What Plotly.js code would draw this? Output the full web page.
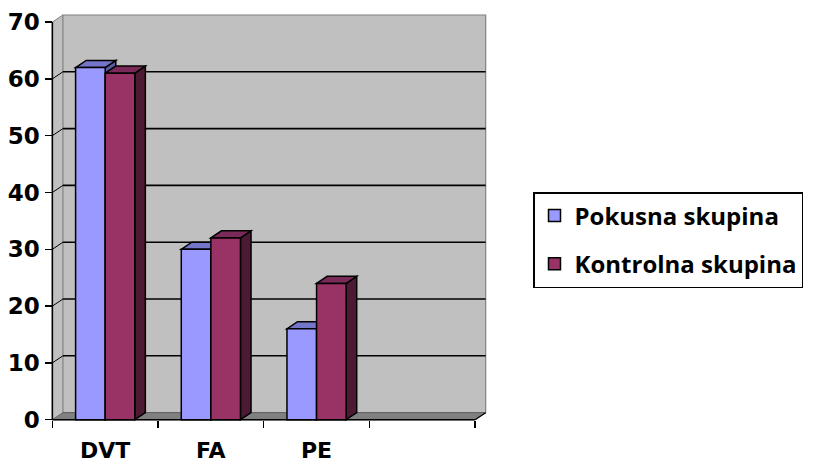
<!DOCTYPE html>
<html>
<head>
<meta charset="utf-8">
<script src="https://cdn.plot.ly/plotly-3.0.1.min.js"></script>
<style>html,body{margin:0;padding:0;background:#fff;}#chart{width:828px;height:467px;}</style>
</head>
<body>
<div id="chart"></div>
<script>
// ---- data ----
const categories = ['DVT', 'FA', 'PE', ''];
const seriesNames = ['Pokusna skupina', 'Kontrolna skupina'];
const pokusna = [62, 30, 16];
const kontrolna = [61, 32, 24];
const yTicks = [0, 10, 20, 30, 40, 50, 60, 70];

// ---- style / geometry ----
const W = 0.28;          // bar width (category units)
const DX = 0.1;          // 3D depth in x (category units)
const DY = 1.25;         // 3D depth in y (value units)
const YMAX = 70;
const XL = -0.5, XR = categories.length - 0.5;
const colors = {
  front: ['#9999FF', '#993366'],
  top: ['#7474C8', '#7A2A58'],
  side: ['#5A5AA0', '#4D1A33']
};

const idx = categories.map((c, i) => i);
const xs = pokusna.map((v, i) => i);

const traces = [pokusna, kontrolna].map((vals, s) => ({
  type: 'bar',
  name: seriesNames[s],
  x: xs,
  y: vals,
  width: W,
  offset: s === 0 ? -W : 0,
  marker: {color: colors.front[s], line: {color: '#000', width: 1.5}},
  hoverinfo: 'skip',
  legendgroup: 'g' + s
}));

const shapes = [];
const P = (pts) => 'M' + pts.map(p => p[0] + ',' + p[1]).join('L') + 'Z';
// left wall
shapes.push({type: 'path', xref: 'x', yref: 'y', layer: 'below',
  path: P([[XL, 0], [XL + DX, DY], [XL + DX, YMAX + DY], [XL, YMAX]]),
  fillcolor: '#C0C0C0', line: {width: 0}});
// back wall
shapes.push({type: 'rect', xref: 'x', yref: 'y', layer: 'below',
  x0: XL + DX, x1: XR + DX, y0: DY, y1: YMAX + DY,
  fillcolor: '#C0C0C0', line: {color: '#808080', width: 1.2}});
// floor
shapes.push({type: 'path', xref: 'x', yref: 'y', layer: 'below',
  path: P([[XL, 0], [XR, 0], [XR + DX, DY], [XL + DX, DY]]),
  fillcolor: '#808080', line: {color: '#606060', width: 1}});
// gridlines + left wall diagonals
yTicks.forEach(v => {
  if (v > 0 && v < YMAX) {
    shapes.push({type: 'line', xref: 'x', yref: 'y', layer: 'below',
      x0: XL + DX, x1: XR + DX, y0: v + DY, y1: v + DY, line: {color: '#000', width: 1.6}});
  }
  if (v > 0) {
    shapes.push({type: 'line', xref: 'x', yref: 'y', layer: 'below',
      x0: XL, x1: XL + DX, y0: v, y1: v + DY,
      line: {color: v === YMAX ? '#808080' : '#000', width: 1}});
  }
});
// bar 3D faces
[pokusna, kontrolna].forEach((vals, s) => {
  vals.forEach((v, i) => {
    const L = s === 0 ? i - W : i;
    const R = L + W;
    shapes.push({type: 'path', xref: 'x', yref: 'y', layer: 'below',
      path: P([[R, 0], [R + DX, DY], [R + DX, v + DY], [R, v]]),
      fillcolor: colors.side[s], line: {color: '#000', width: 1.5}});
    shapes.push({type: 'path', xref: 'x', yref: 'y', layer: 'below',
      path: P([[L, v], [L + DX, v + DY], [R + DX, v + DY], [R, v]]),
      fillcolor: colors.top[s], line: {color: '#000', width: 1.5}});
  });
});
// axis lines
shapes.push({type: 'line', xref: 'x', yref: 'y', layer: 'above',
  x0: XL, x1: XL, y0: 0, y1: YMAX, line: {color: '#000', width: 1.6}});
shapes.push({type: 'line', xref: 'x', yref: 'y', layer: 'above',
  x0: XL, x1: XR, y0: 0, y1: 0, line: {color: '#000', width: 1.6}});
shapes.push({type: 'line', xref: 'x', yref: 'y', layer: 'above',
  x0: XR, x1: XR + DX, y0: 0, y1: DY, line: {color: '#000', width: 1.2}});

const xRange = [-0.56, 3.66];
const yRange = [-0.4, 71.6];
const ml = 46, mr = 336, mt = 13, mb = 45;

const yTickFont = {family: 'DejaVu Sans', size: 23, weight: 'bold', color: '#000'};
const xTickFont = {family: 'DejaVu Sans', size: 22, weight: 'bold', color: '#000'};

const layout = {
  width: 828, height: 467,
  margin: {l: ml, r: mr, t: mt, b: mb},
  paper_bgcolor: '#fff',
  plot_bgcolor: '#fff',
  barmode: 'overlay',
  showlegend: true,
  xaxis: {
    range: xRange, anchor: 'free',
    position: (0 - yRange[0]) / (yRange[1] - yRange[0]),
    tickvals: idx, ticktext: categories,
    ticks: '', showgrid: false, zeroline: false, showline: false,
    tickfont: xTickFont, ticklabelstandoff: 15,
    minor: {tickvals: idx.map(i => i - 0.5).concat([XR]), ticks: 'outside', ticklen: 7,
            tickcolor: '#000', tickwidth: 1.5, showgrid: false},
    fixedrange: true
  },
  yaxis: {
    range: yRange, anchor: 'free',
    position: (XL - xRange[0]) / (xRange[1] - xRange[0]),
    tickvals: yTicks, ticks: 'outside', ticklen: 7, tickcolor: '#000', tickwidth: 1.5,
    showgrid: false, zeroline: false, showline: false,
    tickfont: yTickFont, ticklabelstandoff: 1,
    fixedrange: true
  },
  legend: {
    xref: 'container', yref: 'container',
    x: 533 / 828, xanchor: 'left',
    y: 1 - 192 / 467, yanchor: 'top',
    bgcolor: '#fff', bordercolor: '#000', borderwidth: 1.5,
    font: {family: 'Open Sans', size: 24, weight: 'bold', color: '#000'},
    traceorder: 'grouped', tracegroupgap: 14
  },
  shapes: shapes
};

Plotly.newPlot('chart', traces, layout, {staticPlot: true, displayModeBar: false});
</script>
</body>
</html>
